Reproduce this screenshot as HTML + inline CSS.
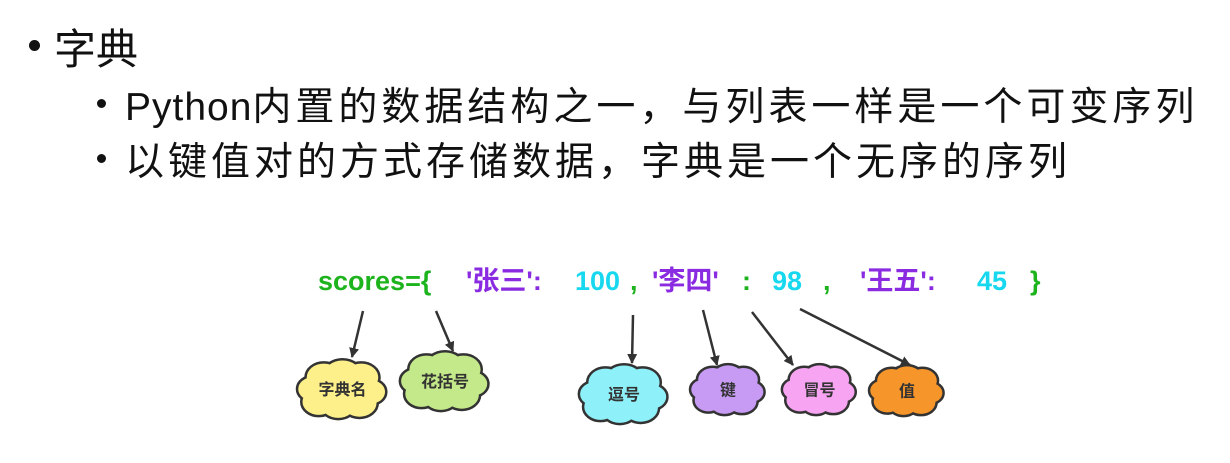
<!DOCTYPE html>
<html><head><meta charset="utf-8"><style>
html,body{margin:0;padding:0;background:#fff;}
body{width:1230px;height:463px;overflow:hidden;position:relative;font-family:"Liberation Sans","Noto Sans CJK SC",sans-serif;}
.t{position:absolute;white-space:nowrap;color:#111;}
.d{position:absolute;border-radius:50%;background:#111;}
</style></head><body>
<div class="d" style="left:29px;top:40px;width:11px;height:11px;"></div>
<div class="t" style="left:54px;top:16px;font-size:42px;">字典</div>
<div class="d" style="left:97px;top:99px;width:9px;height:9px;"></div>
<div class="t" style="left:125px;top:76px;font-size:39px;letter-spacing:4px;"><span style="letter-spacing:1px">Python</span>内置的数据结构之一，与列表一样是一个可变序列</div>
<div class="d" style="left:97px;top:154px;width:9px;height:9px;"></div>
<div class="t" style="left:125px;top:131px;font-size:39px;letter-spacing:4px;">以键值对的方式存储数据，字典是一个无序的序列</div>
<svg id="s" width="1230" height="463" style="position:absolute;left:0;top:0" xmlns="http://www.w3.org/2000/svg">
<defs><marker id="a" markerWidth="10" markerHeight="10" refX="9" refY="5" orient="auto" markerUnits="userSpaceOnUse" viewBox="0 0 10 10"><path d="M0,0 L10,5 L0,10 z" fill="#333"/></marker></defs>
<g font-family="Liberation Sans,Noto Sans CJK SC,sans-serif" font-weight="bold" font-size="27">
<text x="318" y="290" fill="#1db31d">scores={</text>
<text x="466" y="290" fill="#8a2be2">'张三':</text>
<text x="575" y="290" fill="#17d8ee">100</text>
<text x="630" y="290" fill="#1db31d">,</text>
<text x="652" y="290" fill="#8a2be2">'李四'</text>
<text x="742" y="290" fill="#1db31d">:</text>
<text x="772" y="290" fill="#17d8ee">98</text>
<text x="823" y="290" fill="#1db31d">,</text>
<text x="860" y="290" fill="#8a2be2">'王五':</text>
<text x="977" y="290" fill="#17d8ee">45</text>
<text x="1030" y="290" fill="#1db31d">}</text>
</g>
<g stroke="#333" stroke-width="2.5" marker-end="url(#a)">
<line x1="363" y1="311" x2="352" y2="357"/>
<line x1="436" y1="311" x2="453" y2="351"/>
<line x1="633" y1="315" x2="632" y2="363"/>
<line x1="703" y1="310" x2="717" y2="365"/>
<line x1="752" y1="312" x2="793" y2="365"/>
<line x1="800" y1="309" x2="910" y2="365"/>
</g>
<g id="clouds"></g>
</svg>
<script>
var C=[[300,360,85,58,"#fdf08a","字典名"],[403,352,84,58,"#c4e98a","花括号"],[582,365,84,58,"#8ef0f8","逗号"],[693,365,70,49,"#c79af4","键"],[785,365,69,49,"#f7a4f2","冒号"],[872,366,70,49,"#f5952a","值"]];
var g=document.getElementById('clouds'),h="";
C.forEach(function(c){
 var x=c[0],y=c[1],w=c[2],hh=c[3];
 var b=[[.28,.3,.2],[.5,.27,.22],[.72,.3,.2],[.83,.55,.17],[.7,.74,.2],[.45,.76,.2],[.22,.72,.19],[.15,.5,.17],[.5,.52,.32]];
 var s1="",s2="";
 b.forEach(function(k){var cx=x+k[0]*w,cy=y+k[1]*hh,r=k[2]*Math.min(w,hh*1.4);
  s1+='<ellipse cx="'+cx+'" cy="'+cy+'" rx="'+r*1.05+'" ry="'+r*0.85+'" fill="#333" stroke="#333" stroke-width="5"/>';
  s2+='<ellipse cx="'+cx+'" cy="'+cy+'" rx="'+r*1.05+'" ry="'+r*0.85+'" fill="'+c[4]+'"/>';});
 h+=s1+s2+'<text x="'+(x+w/2)+'" y="'+(y+hh/2+6)+'" text-anchor="middle" font-size="16" font-weight="bold" fill="#333" font-family="Liberation Sans,Noto Sans CJK SC,sans-serif">'+c[5]+'</text>';
});
g.innerHTML=h;
</script>
</body></html>
